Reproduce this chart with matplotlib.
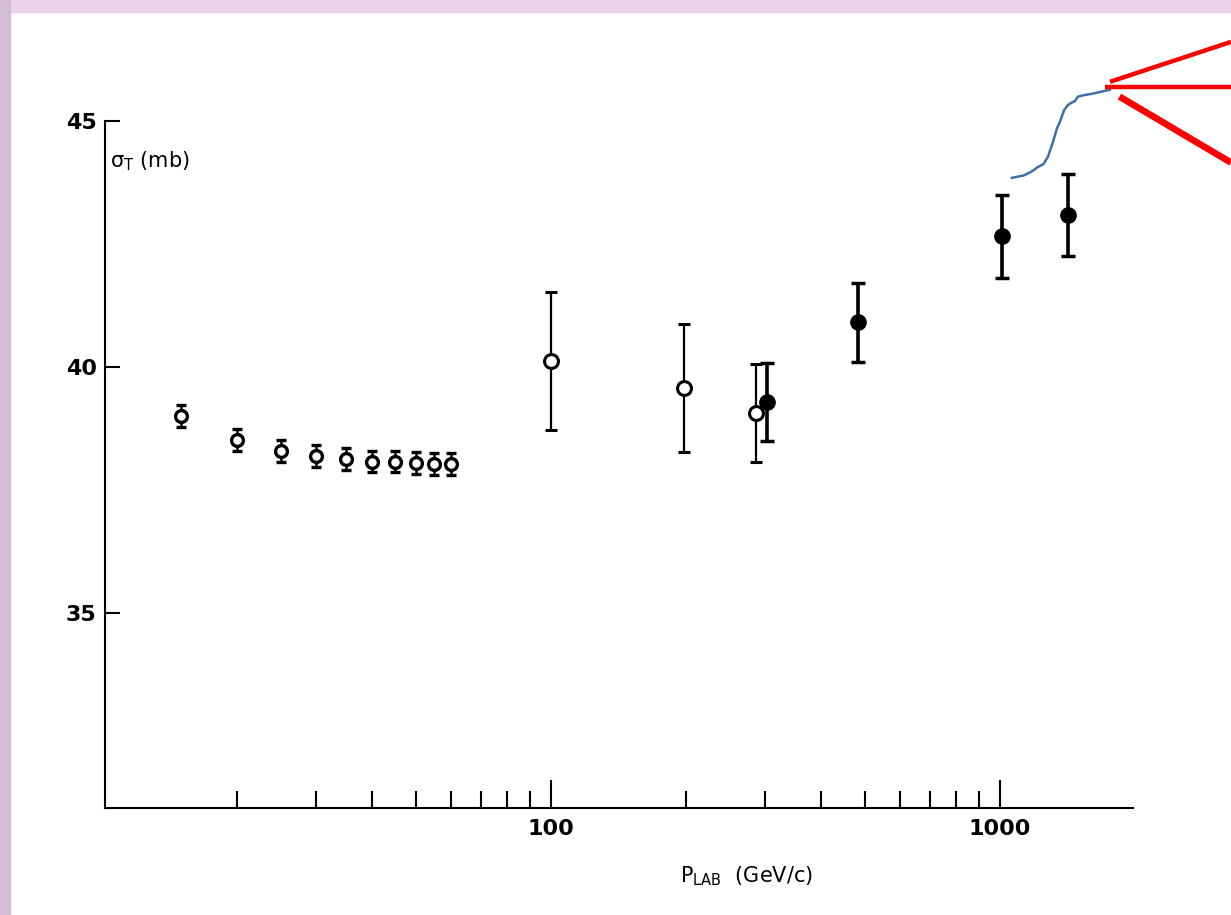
import numpy as np
import matplotlib
matplotlib.use("Agg")
import matplotlib.pyplot as plt
from matplotlib.patches import Rectangle
from matplotlib.ticker import FixedLocator, NullFormatter

# open circles (accelerator data)
p_open = [15, 20, 25, 30, 35, 40, 45, 50, 55, 60, 100, 198, 286]
s_open = [39.0, 38.52, 38.3, 38.2, 38.14, 38.08, 38.08, 38.05, 38.03, 38.03, 40.12, 39.57, 39.07]
e_open = [0.22, 0.22, 0.22, 0.22, 0.22, 0.22, 0.22, 0.22, 0.22, 0.22, 1.4, 1.3, 1.0]

# filled circles (cosmic ray data)
p_fill = [303, 483, 1010, 1417]
s_fill = [39.29, 40.91, 42.65, 43.09]
e_fill = [0.8, 0.8, 0.85, 0.83]

# hand drawn blue curve
p_curve = [1063, 1130, 1166, 1190, 1209, 1250, 1279, 1310, 1340, 1360, 1390,
           1417, 1440, 1469, 1492, 1540, 1611, 1700, 1758]
s_curve = [43.84, 43.89, 43.95, 44.0, 44.05, 44.12, 44.27, 44.55, 44.85, 44.98, 45.22,
           45.32, 45.36, 45.4, 45.49, 45.52, 45.55, 45.6, 45.63]

# red fan of lines
red_lines = [
    ([1758, 3270], [45.79, 46.6], 3.2),
    ([1715, 3270], [45.69, 45.69], 3.2),
    ([1845, 3270], [45.49, 44.15], 4.8),
]

xlo, xhi = 10 ** (2 - 446 / 449), 10 ** (3 + 231 / 449)
ylo, yhi = 31.05, 47.45

fig = plt.figure(figsize=(12.31, 9.15), dpi=100)
fig.patches.append(Rectangle((0, 0), 1, 1, transform=fig.transFigure,
                             color="white", zorder=-10))
fig.patches.append(Rectangle((0, 1 - 12 / 915), 1, 12 / 915, transform=fig.transFigure,
                             color="#ecd2ea", zorder=-5))
fig.patches.append(Rectangle((0, 0), 10 / 1231, 1, transform=fig.transFigure,
                             color="#d4bcd2", zorder=-4))

ax = fig.add_axes([105 / 1231, 107 / 915, 1126 / 1231, 808 / 915])
ax.set_facecolor("none")
ax.set_xscale("log")
ax.set_xlim(xlo, xhi)
ax.set_ylim(ylo, yhi)

for sp in ["top", "right"]:
    ax.spines[sp].set_visible(False)
ax.spines["left"].set_bounds(ylo, 45)
ax.spines["bottom"].set_bounds(xlo, 1980)
ax.spines["left"].set_linewidth(1.5)
ax.spines["bottom"].set_linewidth(1.5)

ax.xaxis.set_major_locator(FixedLocator([100, 1000]))
ax.set_xticklabels(["100", "1000"])
minors = [20, 30, 40, 50, 60, 70, 80, 90, 200, 300, 400, 500, 600, 700, 800, 900]
ax.xaxis.set_minor_locator(FixedLocator(minors))
ax.xaxis.set_minor_formatter(NullFormatter())
ax.set_yticks([35, 40, 45])
ax.tick_params(axis="x", which="major", direction="in", length=20, width=1.5,
               labelsize=16, pad=8)
ax.tick_params(axis="x", which="minor", direction="in", length=12, width=1.5)
ax.tick_params(axis="y", direction="in", length=11, width=1.5, labelsize=16, pad=6)
for lab in ax.get_yticklabels() + ax.get_xticklabels():
    lab.set_fontweight("bold")

ax.errorbar(p_open[:10], s_open[:10], yerr=e_open[:10], fmt="o", ms=8.5, mfc="white",
            mec="black", mew=2.4, ecolor="black", elinewidth=1.8, capsize=3.5,
            capthick=2.2, zorder=3)
ax.errorbar(p_open[10:], s_open[10:], yerr=e_open[10:], fmt="o", ms=10, mfc="white",
            mec="black", mew=2.2, ecolor="black", elinewidth=1.6, capsize=4,
            capthick=2, zorder=3)
ax.errorbar(p_fill, s_fill, yerr=e_fill, fmt="o", ms=11, mfc="black", mec="black",
            ecolor="black", elinewidth=2.6, capsize=5, capthick=2.5, zorder=3)

ax.plot(p_curve, s_curve, color="#3f6fa6", lw=1.8, clip_on=False)
for xs, ys, lw in red_lines:
    ax.plot(xs, ys, color="red", lw=lw, clip_on=False, solid_capstyle="butt")

ax.text(0.004, 0.80, r"$\mathregular{\sigma_T}$ (mb)", transform=ax.transAxes,
        fontsize=15, va="center", ha="left")
ax.text(0.57, -0.085, r"P$_\mathregular{LAB}$  (GeV/c)", transform=ax.transAxes,
        fontsize=15, ha="center", va="center")

fig.savefig("out.png", dpi=100)
